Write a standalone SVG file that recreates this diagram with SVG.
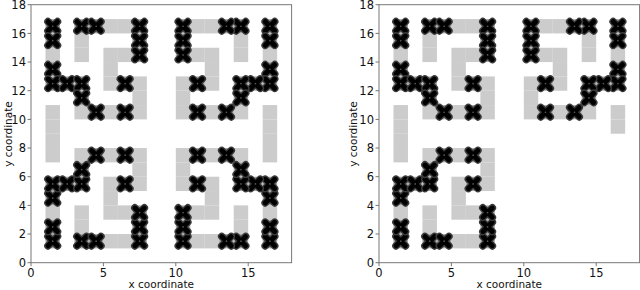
<svg xmlns="http://www.w3.org/2000/svg" xmlns:xlink="http://www.w3.org/1999/xlink" width="640" height="290" viewBox="0 0 640 290">
<style>
.lbl{font-family:"DejaVu Sans",sans-serif;font-size:11.5px;fill:#111}
.axl{font-family:"DejaVu Sans",sans-serif;font-size:10.5px;fill:#111}
.spine{fill:none;stroke:#777;stroke-width:1}
.tick{stroke:#777;stroke-width:1}
</style>
<defs>
<rect id="g" width="1" height="1" fill="#cccccc"/>
<g id="k">
<rect width="1" height="1" fill="#a8a8a8"/>
<path d="M.17 .17L.83 .83M.83 .17L.17 .83" stroke="#3a3a3a" stroke-width=".52" stroke-linecap="round"/>
<path d="M.18 .18L.82 .82M.82 .18L.18 .82" stroke="#000" stroke-width=".34" stroke-linecap="round"/>
<circle cx=".5" cy=".5" r=".06" fill="#555"/>
</g>
<g id="TL">
<use href="#g" x="1" y="14"/><use href="#g" x="3" y="10"/><use href="#g" x="5" y="10"/><use href="#g" x="7" y="10"/><use href="#g" x="7" y="11"/><use href="#g" x="7" y="12"/><use href="#g" x="5" y="12"/><use href="#g" x="5" y="13"/><use href="#g" x="5" y="14"/><use href="#g" x="6" y="14"/><use href="#g" x="5" y="16"/><use href="#g" x="6" y="16"/><use href="#g" x="3" y="15"/><use href="#g" x="3" y="14"/>
<use href="#k" x="1" y="16"/><use href="#k" x="1" y="15"/><use href="#k" x="1" y="13"/><use href="#k" x="1" y="12"/><use href="#k" x="2" y="12"/><use href="#k" x="3" y="12"/><use href="#k" x="3" y="11"/><use href="#k" x="4" y="10"/><use href="#k" x="6" y="10"/><use href="#k" x="6" y="12"/><use href="#k" x="3" y="16"/><use href="#k" x="4" y="16"/><use href="#k" x="7" y="16"/><use href="#k" x="7" y="15"/><use href="#k" x="7" y="14"/>
</g>
<g id="TR">
<use href="#g" x="16" y="14"/><use href="#g" x="14" y="10"/><use href="#g" x="12" y="10"/><use href="#g" x="10" y="10"/><use href="#g" x="10" y="11"/><use href="#g" x="10" y="12"/><use href="#g" x="12" y="12"/><use href="#g" x="12" y="13"/><use href="#g" x="12" y="14"/><use href="#g" x="11" y="14"/><use href="#g" x="12" y="16"/><use href="#g" x="11" y="16"/><use href="#g" x="14" y="15"/><use href="#g" x="14" y="14"/>
<use href="#k" x="16" y="16"/><use href="#k" x="16" y="15"/><use href="#k" x="16" y="13"/><use href="#k" x="16" y="12"/><use href="#k" x="15" y="12"/><use href="#k" x="14" y="12"/><use href="#k" x="14" y="11"/><use href="#k" x="13" y="10"/><use href="#k" x="11" y="10"/><use href="#k" x="11" y="12"/><use href="#k" x="14" y="16"/><use href="#k" x="13" y="16"/><use href="#k" x="10" y="16"/><use href="#k" x="10" y="15"/><use href="#k" x="10" y="14"/>
</g>
<g id="BL">
<use href="#g" x="1" y="3"/><use href="#g" x="3" y="7"/><use href="#g" x="5" y="7"/><use href="#g" x="7" y="7"/><use href="#g" x="7" y="6"/><use href="#g" x="7" y="5"/><use href="#g" x="5" y="5"/><use href="#g" x="5" y="4"/><use href="#g" x="5" y="3"/><use href="#g" x="6" y="3"/><use href="#g" x="5" y="1"/><use href="#g" x="6" y="1"/><use href="#g" x="3" y="2"/><use href="#g" x="3" y="3"/>
<use href="#k" x="1" y="1"/><use href="#k" x="1" y="2"/><use href="#k" x="1" y="4"/><use href="#k" x="1" y="5"/><use href="#k" x="2" y="5"/><use href="#k" x="3" y="5"/><use href="#k" x="3" y="6"/><use href="#k" x="4" y="7"/><use href="#k" x="6" y="7"/><use href="#k" x="6" y="5"/><use href="#k" x="3" y="1"/><use href="#k" x="4" y="1"/><use href="#k" x="7" y="1"/><use href="#k" x="7" y="2"/><use href="#k" x="7" y="3"/>
</g>
<g id="BR">
<use href="#g" x="16" y="3"/><use href="#g" x="14" y="7"/><use href="#g" x="12" y="7"/><use href="#g" x="10" y="7"/><use href="#g" x="10" y="6"/><use href="#g" x="10" y="5"/><use href="#g" x="12" y="5"/><use href="#g" x="12" y="4"/><use href="#g" x="12" y="3"/><use href="#g" x="11" y="3"/><use href="#g" x="12" y="1"/><use href="#g" x="11" y="1"/><use href="#g" x="14" y="2"/><use href="#g" x="14" y="3"/>
<use href="#k" x="16" y="1"/><use href="#k" x="16" y="2"/><use href="#k" x="16" y="4"/><use href="#k" x="16" y="5"/><use href="#k" x="15" y="5"/><use href="#k" x="14" y="5"/><use href="#k" x="14" y="6"/><use href="#k" x="13" y="7"/><use href="#k" x="11" y="7"/><use href="#k" x="11" y="5"/><use href="#k" x="14" y="1"/><use href="#k" x="13" y="1"/><use href="#k" x="10" y="1"/><use href="#k" x="10" y="2"/><use href="#k" x="10" y="3"/>
</g>
<g id="yt">
<line class="tick" x1="-3.5" y1="262.7" x2="0" y2="262.7"/><line class="tick" x1="-3.5" y1="234" x2="0" y2="234"/><line class="tick" x1="-3.5" y1="205.4" x2="0" y2="205.4"/><line class="tick" x1="-3.5" y1="176.7" x2="0" y2="176.7"/><line class="tick" x1="-3.5" y1="148" x2="0" y2="148"/><line class="tick" x1="-3.5" y1="119.4" x2="0" y2="119.4"/><line class="tick" x1="-3.5" y1="90.7" x2="0" y2="90.7"/><line class="tick" x1="-3.5" y1="62" x2="0" y2="62"/><line class="tick" x1="-3.5" y1="33.4" x2="0" y2="33.4"/><line class="tick" x1="-3.5" y1="4.7" x2="0" y2="4.7"/>
<g class="lbl" text-anchor="end">
<text x="-5" y="266.9">0</text><text x="-5" y="238.2">2</text><text x="-5" y="209.6">4</text><text x="-5" y="180.9">6</text><text x="-5" y="152.2">8</text><text x="-5" y="123.6">10</text><text x="-5" y="94.9">12</text><text x="-5" y="66.2">14</text><text x="-5" y="37.6">16</text><text x="-5" y="8.9">18</text>
</g>
<line class="tick" x1="0" y1="262.7" x2="0" y2="266.2"/><line class="tick" x1="72.4" y1="262.7" x2="72.4" y2="266.2"/><line class="tick" x1="144.8" y1="262.7" x2="144.8" y2="266.2"/><line class="tick" x1="217.2" y1="262.7" x2="217.2" y2="266.2"/>
<g class="lbl" text-anchor="middle">
<text x="0" y="276.5">0</text><text x="72.4" y="276.5">5</text><text x="144.8" y="276.5">10</text><text x="217.2" y="276.5">15</text>
</g>
<rect class="spine" x="0" y="4.7" width="260.6" height="258"/>
</g>
</defs>

<g id="left-panel">
<g transform="translate(31,262.7) scale(14.48,-14.33)">
<use href="#TL"/><use href="#TR"/><use href="#BL"/><use href="#BR"/>
<use href="#g" x="1" y="7"/><use href="#g" x="1" y="8"/><use href="#g" x="1" y="9"/><use href="#g" x="1" y="10"/>
<use href="#g" x="16" y="7"/><use href="#g" x="16" y="8"/><use href="#g" x="16" y="9"/><use href="#g" x="16" y="10"/>
</g>
<use href="#yt" transform="translate(31,0)"/>
<text class="axl" x="161.3" y="288" text-anchor="middle">x coordinate</text>
<text class="axl" transform="translate(12,134) rotate(-90)" text-anchor="middle">y coordinate</text>
</g>

<g id="right-panel">
<g transform="translate(379,262.7) scale(14.48,-14.33)">
<use href="#TL"/><use href="#TR"/><use href="#BL"/>
<use href="#g" x="1" y="7"/><use href="#g" x="1" y="8"/><use href="#g" x="1" y="9"/><use href="#g" x="1" y="10"/>
<use href="#g" x="16" y="9"/><use href="#g" x="16" y="10"/>
</g>
<use href="#yt" transform="translate(379,0)"/>
<text class="axl" x="509.3" y="288" text-anchor="middle">x coordinate</text>
<text class="axl" transform="translate(357,134) rotate(-90)" text-anchor="middle">y coordinate</text>
</g>
</svg>
